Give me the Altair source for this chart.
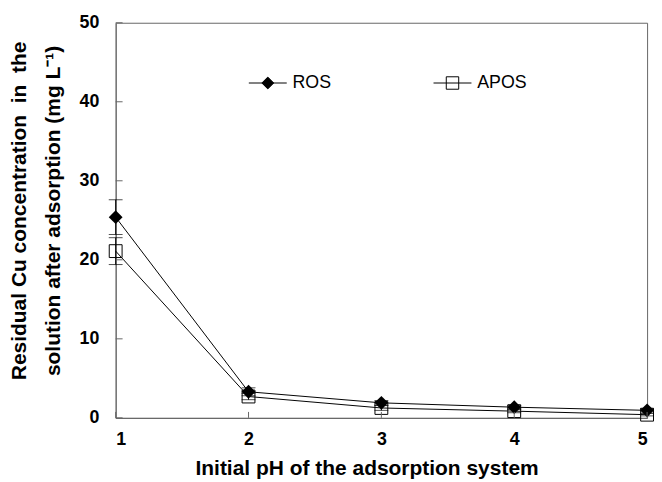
import altair as alt
import pandas as pd

ph = [1, 2, 3, 4, 5]
ros = [25.4, 3.3, 1.9, 1.35, 0.95]
apos = [21.1, 2.7, 1.25, 0.85, 0.4]
ros_err = [2.2, 0.5, 0.3, 0.2, 0.2]
apos_err = [1.7, 0.4, 0.3, 0.2, 0.15]
series = ["ROS", "APOS"]
y_ticks = [0, 10, 20, 30, 40, 50]
x_ticks = [1, 2, 3, 4, 5]

rows = []
for s, vals, errs in (("ROS", ros, ros_err), ("APOS", apos, apos_err)):
    for p, v, e in zip(ph, vals, errs):
        rows.append({"pH": p, "value": v, "lo": v - e, "hi": v + e, "series": s})
df = pd.DataFrame(rows)

FONT = "Liberation Sans"
AX = "#666666"
W, H = 538, 400
NB = "\u00a0"

xs = alt.Scale(domain=[1, 5], nice=False, zero=False)
ys = alt.Scale(domain=[0, 50], nice=False)

X = alt.X("pH:Q", scale=xs, axis=alt.Axis(
    values=x_ticks, format="d", ticks=False, grid=False, labelPadding=13,
    title="Initial pH of the adsorption system", titleX=254, titleY=57,
    titleBaseline="alphabetic", titleAlign="center"))
Y = alt.Y("value:Q", scale=ys, axis=alt.Axis(
    values=y_ticks, ticks=False, grid=False, labelPadding=17,
    title=["Residual Cu concentration " + NB + "in " + NB + "the",
           "solution after adsorption (mg L\u207b\u00b9)"],
    titleX=-97, titleY=190, titleBaseline="middle", titleAlign="center",
    titleLineHeight=34))

base = alt.Chart(df)

lines = base.mark_line(color="black", strokeWidth=1).encode(x=X, y=Y, detail="series:N")

err = base.mark_rule(color="black", strokeWidth=1).encode(x="pH:Q", y="lo:Q", y2="hi:Q")
cap_lo = base.mark_tick(orient="horizontal", size=14, thickness=1, color="black").encode(x="pH:Q", y="lo:Q")
cap_hi = base.mark_tick(orient="horizontal", size=14, thickness=1, color="black").encode(x="pH:Q", y="hi:Q")

pts_ros = base.transform_filter("datum.series == 'ROS'").mark_point(
    shape="diamond", filled=True, size=196, color="black", opacity=1).encode(x="pH:Q", y="value:Q")
pts_apos = base.transform_filter("datum.series == 'APOS'").mark_point(
    shape="square", filled=False, size=169, color="black", strokeWidth=1, opacity=1).encode(x="pH:Q", y="value:Q")

ytk = alt.Chart(pd.DataFrame({"value": y_ticks})).mark_rule(color=AX).encode(
    y="value:Q", x=alt.value(0), x2=alt.value(7))
xtk = alt.Chart(pd.DataFrame({"pH": x_ticks})).mark_rule(color=AX).encode(
    x="pH:Q", y=alt.value(H), y2=alt.value(H - 6))

p_ros = "M-3.2,0H3.2M0,-1L1,0L0,1L-1,0Z"
p_apos = "M-3.2,0H3.2M-1.05,-1.05H1.05V1.05H-1.05Z"

leg_props = dict(title=None, orient="none", legendX=145, legendY=52, direction="horizontal",
                 columns=2, columnPadding=100, symbolSize=144, labelOffset=16,
                 labelFontSize=18, labelFont=FONT, labelColor="black",
                 symbolStrokeWidth=1)

leg = base.transform_filter("datum.pH > 100").mark_point(
    filled=True, opacity=1, strokeWidth=1, size=144).encode(
    x="pH:Q", y="value:Q",
    shape=alt.Shape("series:N", scale=alt.Scale(domain=series, range=[p_ros, p_apos]),
                    legend=alt.Legend(**leg_props)),
    fill=alt.Fill("series:N", scale=alt.Scale(domain=series, range=["black", "transparent"]),
                  legend=alt.Legend(**leg_props)),
    stroke=alt.Stroke("series:N", scale=alt.Scale(domain=series, range=["black", "black"]),
                      legend=alt.Legend(**leg_props)),
)

chart = alt.layer(lines, err, cap_lo, cap_hi, pts_ros, pts_apos, ytk, xtk, leg).properties(
    width=W, height=H,
    background="white",
    autosize=alt.AutoSizeParams(type="none"),
    padding={"left": 109, "top": 12, "right": 7, "bottom": 62},
).configure_view(stroke=AX, strokeWidth=1).configure_axis(
    domainColor=AX, domainWidth=1,
    labelFont=FONT, labelFontSize=18, labelFontWeight="bold", labelColor="black",
    titleFont=FONT, titleFontSize=21.2, titleFontWeight="bold", titleColor="black",
)

chart.save("out.html", embed_options={"renderer": "svg", "actions": False})
